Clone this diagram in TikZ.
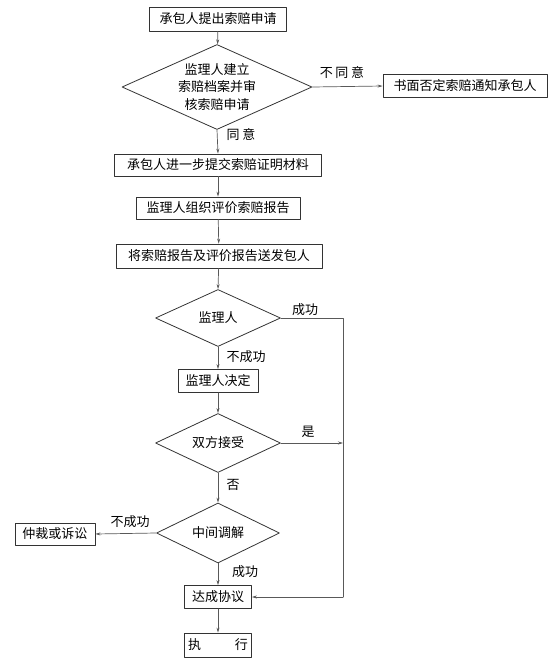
\documentclass[tikz,border=0pt]{standalone}
\usepackage{fontspec}
\setmainfont{Noto Sans CJK SC}
\usetikzlibrary{shapes.geometric,arrows.meta}

\tikzset{
  box/.style={draw=black!80, line width=0.8pt, inner sep=0pt, minimum height=23pt},
  test/.style={draw=black!80, line width=0.8pt, shape=diamond, inner sep=0pt, align=center},
  flow/.style={draw=black!65, line width=0.7pt, -{Stealth[length=5pt,width=3pt]}},
  plain/.style={draw=black!65, line width=0.7pt},
  lbl/.style={inner sep=1pt}
}

\begin{document}
\begin{tikzpicture}[x=1pt, y=-1pt, line cap=round, line join=round]
  \fontsize{13}{17.5}\selectfont
  % Picture bounds
  \useasboundingbox (0,0) rectangle (560,662);

  % Boxes and decisions
  \node[box, minimum width=137pt, minimum height=24pt] (start) at (218,19) {承包人提出索赔申请};
  \node[test, minimum width=190pt, minimum height=85pt, aspect=2.235] (audit) at (217,87)
    {监理人建立\\索赔档案并审\\核索赔申请};
  \node[box, minimum width=164pt] (reject) at (465,86) {书面否定索赔通知承包人};
  \node[box, minimum width=207pt, minimum height=22pt] (supply) at (218,165) {承包人进一步提交索赔证明材料};
  \node[box, minimum width=164pt, minimum height=22pt] (eval) at (218,208) {监理人组织评价索赔报告};
  \node[box, minimum width=206pt, minimum height=24pt] (send) at (219,256) {将索赔报告及评价报告送发包人};
  \node[test, minimum width=125pt, minimum height=57pt, aspect=2.2] (engr) at (218,318) {监理人};
  \node[box, minimum width=80pt] (decide) at (218,381) {监理人决定};
  \node[test, minimum width=125pt, minimum height=59pt, aspect=2.1] (accept) at (218,443) {双方接受};
  \node[test, minimum width=123pt, minimum height=60pt, aspect=2.05] (mediate) at (218,533) {中间调解};
  \node[box, minimum width=80pt, minimum height=22pt] (arbit) at (55,534) {仲裁或诉讼};
  \node[box, minimum width=67pt] (agree) at (218,597) {达成协议};
  \node[box, minimum width=67pt, minimum height=24pt] (exec) at (218,645) {执\hspace{2.6em}行};

  % Corners of the return line
  \coordinate (engrR) at (343,318);
  \coordinate (agreeR) at (343,597);

  % Connectors
  \draw[flow] (start) -- (audit);
  \draw[flow] (audit.east) -- (reject.west);
  \draw[flow] (audit.south) -- (supply.north);
  \draw[flow] (supply) -- (eval);
  \draw[flow] (eval) -- (send);
  \draw[flow] (send) -- (engr.north);
  \draw[flow] (engr.south) -- (decide.north);
  \draw[flow] (decide) -- (accept.north);
  \draw[flow] (accept.south) -- (mediate.north);
  \draw[flow] (mediate.west) -- (arbit.east);
  \draw[flow] (mediate.south) -- (agree.north);
  \draw[flow] (agree) -- (exec);
  \draw[plain] (engr.east) -- (engrR) -- (agreeR);
  \draw[flow] (agreeR) -- (agree.east);
  \draw[flow] (accept.east) -- (accept.east -| engrR);

  % Labels
  \node[lbl] (noLbl) at (342,73) {不\hspace{0.2em}同\hspace{0.2em}意};
  \node[lbl] (yesLbl) at (241,135) {同\hspace{0.2em}意};
  \node[lbl] (okA) at (305,310) {成功};
  \node[lbl] (failA) at (246,357) {不成功};
  \node[lbl] (isLbl) at (308,432) {是};
  \node[lbl] (notLbl) at (233,485) {否};
  \node[lbl] (failB) at (130,522) {不成功};
  \node[lbl] (okB) at (245,572) {成功};
\end{tikzpicture}
\end{document}
